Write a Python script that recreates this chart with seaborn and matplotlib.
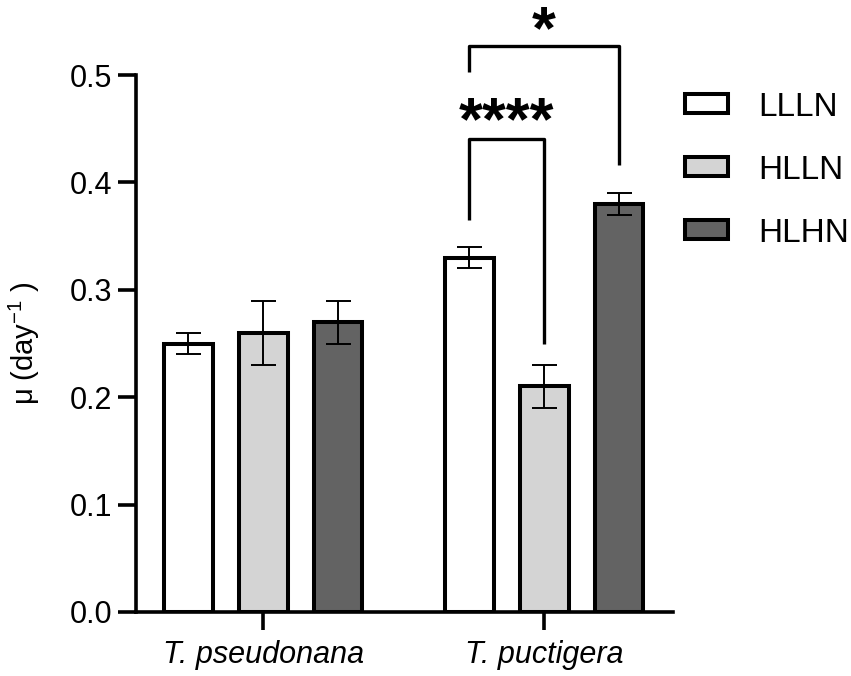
import matplotlib
matplotlib.use("Agg")
import matplotlib.pyplot as plt
import seaborn as sns
import pandas as pd
import numpy as np
from matplotlib.patches import Patch

species = ["T. pseudonana", "T. puctigera"]
treatments = ["LLLN", "HLLN", "HLHN"]
mu_LLLN = [0.25, 0.33]
mu_HLLN = [0.26, 0.21]
mu_HLHN = [0.27, 0.38]
sd_LLLN = [0.01, 0.01]
sd_HLLN = [0.03, 0.02]
sd_HLHN = [0.02, 0.01]
colors = ["#ffffff", "#d4d4d4", "#636363"]

means = {"LLLN": mu_LLLN, "HLLN": mu_HLLN, "HLHN": mu_HLHN}
sds = {"LLLN": sd_LLLN, "HLLN": sd_HLLN, "HLHN": sd_HLHN}
rows = []
for t in treatments:
    for i, s in enumerate(species):
        rows.append({"species": s, "treatment": t, "mu": means[t][i], "sd": sds[t][i]})
df = pd.DataFrame(rows)

sns.set_theme(style="ticks")
plt.rcParams["font.family"] = ["Liberation Sans", "DejaVu Sans"]
plt.rcParams["mathtext.fontset"] = "custom"
plt.rcParams["mathtext.rm"] = "Liberation Sans"
plt.rcParams["mathtext.it"] = "Liberation Sans:italic"
for k in ["text.color", "axes.labelcolor", "xtick.color", "ytick.color", "axes.edgecolor"]:
    plt.rcParams[k] = "black"

fig = plt.figure(figsize=(8.51, 6.76), dpi=100)
ax = fig.add_axes([0.160, 0.0947, 0.631, 0.7943])

sns.barplot(data=df, x="species", y="mu", hue="treatment", order=species,
            hue_order=treatments, palette=colors, edgecolor="black",
            linewidth=2.9, gap=0.35, width=0.8, errorbar=None, legend=False,
            saturation=1, ax=ax)

# error bars & centers
centers = {}
for t, cont in zip(treatments, ax.containers):
    xs = [b.get_x() + b.get_width() / 2 for b in cont]
    centers[t] = xs
    ax.errorbar(xs, means[t], yerr=sds[t], fmt="none", ecolor="black",
                elinewidth=1.4, capsize=9, capthick=1.4, zorder=5)

ax.set_ylim(0, 0.5)
ax.set_xlim(-0.452, 1.459)
ax.set_yticks([0.0, 0.1, 0.2, 0.3, 0.4, 0.5])
ax.set_yticklabels(["0.0", "0.1", "0.2", "0.3", "0.4", "0.5"])
ax.tick_params(axis="both", length=13, width=2.6, labelsize=22, color="black",
               labelcolor="black")
ax.tick_params(axis="y", pad=4)
ax.tick_params(axis="x", pad=7)
for lab in ax.get_xticklabels():
    lab.set_fontstyle("italic")
    lab.set_fontsize(22)
sns.despine(ax=ax)
for sp in ["left", "bottom"]:
    ax.spines[sp].set_linewidth(2.6)
    ax.spines[sp].set_color("black")
ax.set_xlabel("")
ax.set_ylabel("μ (day$^{-1}$ )", fontsize=21, labelpad=20)

# significance brackets (second species)
x1 = centers["LLLN"][1]
x2 = centers["HLLN"][1]
x3 = centers["HLHN"][1]
lw_b = 2.4
ax.plot([x1, x1, x2, x2], [0.365, 0.44, 0.44, 0.25], color="black", lw=lw_b,
        clip_on=False, solid_capstyle="butt")
ax.text((x1 + x2) / 2, 0.440, "****", ha="center", va="baseline", fontsize=44,
        fontweight="bold", clip_on=False)
ax.plot([x1, x1, x3, x3], [0.503, 0.527, 0.527, 0.416], color="black", lw=lw_b,
        clip_on=False, solid_capstyle="butt")
ax.text((x1 + x3) / 2, 0.525, "*", ha="center", va="baseline", fontsize=44,
        fontweight="bold", clip_on=False)

handles = [Patch(facecolor=c, edgecolor="black", linewidth=2.9, label=t)
           for c, t in zip(colors, treatments)]
leg = ax.legend(handles=handles, loc="upper left", bbox_to_anchor=(1.022, 0.969),
                frameon=False, fontsize=24, handlelength=1.29, handleheight=0.5,
                handletextpad=0.9, labelspacing=0.96, borderaxespad=0,
                borderpad=0)

fig.savefig("out.png", dpi=100)
